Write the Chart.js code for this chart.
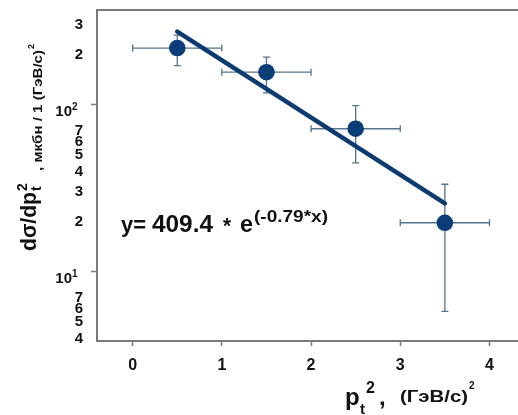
<!DOCTYPE html>
<html><head><meta charset="utf-8">
<script src="https://cdn.jsdelivr.net/npm/chart.js@4/dist/chart.umd.min.js"></script>
<style>html,body{margin:0;padding:0;background:#fff;overflow:hidden}</style>
</head><body>
<canvas id="c" width="518" height="415"></canvas>
<script>
// ---- data ----
const xValues   = [0.5, 1.5, 2.5, 3.5];
const yValues   = [219, 157, 72, 19.7];
const xErrLow   = [0, 1, 2, 3];
const xErrHigh  = [1, 2, 3, 4];
const yErrLow   = [172, 118, 45, 5.8];
const yErrHigh  = [262, 193, 99, 33.5];
const fitX      = [0.5, 3.5];
const fitY      = [275, 25.7];
const xTicks    = [0, 1, 2, 3, 4];
const yTicks    = [4, 5, 6, 7, 10, 20, 30, 40, 50, 60, 70, 100, 200, 300];
const yMajor    = [10, 100];
const fitText   = {y: 'y=', a: '409.4', star: '*', e: 'e', exp: '(-0.79*x)'};
const xTitle    = {p: 'p', sub: 't', sup: '2', comma: ',', unit: '(ГэВ/с)', unitSup: '2'};
const yTitle    = {main: 'dσ/dp', sub: 't', sup: '2', unit: ', мкбн / 1 (ГэВ/с)', unitSup: '2'};

const FONT = '"Liberation Sans", Arial, sans-serif';
const AXIS = '#7a7a7a';

function fitTextDraw(ctx, txt, x, y, size, width) {
  ctx.font = 'bold ' + size + 'px ' + FONT;
  const w = ctx.measureText(txt).width;
  ctx.save();
  ctx.translate(x, y);
  if (width) ctx.scale(width / w, 1);
  ctx.fillText(txt, 0, 0);
  ctx.restore();
}

const extras = {
  id: 'extras',
  beforeDatasetsDraw(chart) {
    const ctx = chart.ctx, xs = chart.scales.x, ys = chart.scales.y;
    ctx.save();
    ctx.strokeStyle = '#56748d';
    ctx.lineWidth = 1.3;
    const cap = 3.5;
    for (let i = 0; i < xValues.length; i++) {
      const px = xs.getPixelForValue(xValues[i]);
      const py = ys.getPixelForValue(yValues[i]);
      const x1 = xs.getPixelForValue(xErrLow[i]), x2 = xs.getPixelForValue(xErrHigh[i]);
      const y1 = ys.getPixelForValue(yErrLow[i]), y2 = ys.getPixelForValue(yErrHigh[i]);
      ctx.beginPath();
      ctx.moveTo(x1, py); ctx.lineTo(x2, py);
      ctx.moveTo(x1, py - cap); ctx.lineTo(x1, py + cap);
      ctx.moveTo(x2, py - cap); ctx.lineTo(x2, py + cap);
      ctx.moveTo(px, y1); ctx.lineTo(px, y2);
      ctx.moveTo(px - cap, y1); ctx.lineTo(px + cap, y1);
      ctx.moveTo(px - cap, y2); ctx.lineTo(px + cap, y2);
      ctx.stroke();
    }
    ctx.restore();
  },
  afterDraw(chart) {
    const ctx = chart.ctx, ca = chart.chartArea, ys = chart.scales.y;
    ctx.save();
    // top border
    ctx.strokeStyle = AXIS; ctx.lineWidth = 2;
    ctx.beginPath(); ctx.moveTo(ca.left - 1, ca.top); ctx.lineTo(ca.right, ca.top); ctx.stroke();

    ctx.fillStyle = '#111';
    ctx.textBaseline = 'alphabetic';
    ctx.textAlign = 'left';
    // 10^n tick labels
    yMajor.forEach(v => {
      const py = ys.getPixelForValue(v);
      const n = String(Math.round(Math.log10(v)));
      ctx.font = 'bold 15px ' + FONT;
      ctx.textAlign = 'right';
      ctx.fillText('10', 72, py + 11.5);
      ctx.textAlign = 'left';
      ctx.font = 'bold 10px ' + FONT;
      ctx.fillText(n, 72, py + 5.5);
    });

    // fit formula
    fitTextDraw(ctx, fitText.y, 121, 232, 22, 25);
    fitTextDraw(ctx, fitText.a, 152, 232, 24, 61);
    fitTextDraw(ctx, fitText.star, 223, 233, 22, 8);
    fitTextDraw(ctx, fitText.e, 240, 232, 24, 13);
    fitTextDraw(ctx, fitText.exp, 254, 222, 17, 74);

    // x title
    fitTextDraw(ctx, xTitle.p, 345, 405, 24);
    fitTextDraw(ctx, xTitle.sub, 360, 414, 15);
    fitTextDraw(ctx, xTitle.sup, 366, 393, 16);
    fitTextDraw(ctx, xTitle.comma, 379, 405, 24);
    fitTextDraw(ctx, xTitle.unit, 400, 402, 17, 68);
    fitTextDraw(ctx, xTitle.unitSup, 469, 389, 10);

    // y title (rotated)
    ctx.save();
    ctx.translate(36, 251);
    ctx.rotate(-Math.PI / 2);
    fitTextDraw(ctx, yTitle.main, 0, 0, 22, 59);
    fitTextDraw(ctx, yTitle.sub, 60, 5, 14);
    fitTextDraw(ctx, yTitle.sup, 60, -9, 14);
    fitTextDraw(ctx, yTitle.unit, 80, 6, 13, 121);
    fitTextDraw(ctx, yTitle.unitSup, 202, -2, 9);
    ctx.restore();

    ctx.restore();
  }
};

new Chart(document.getElementById('c'), {
  type: 'scatter',
  data: {
    datasets: [
      {
        data: fitX.map((x, i) => ({x, y: fitY[i]})),
        showLine: true, borderColor: '#0d3b70', borderWidth: 4.5,
        pointRadius: 0, borderCapStyle: 'round', fill: false
      },
      {
        data: xValues.map((x, i) => ({x, y: yValues[i]})),
        pointRadius: 8.3, pointBackgroundColor: '#0b3d78', pointBorderWidth: 0,
        showLine: false
      }
    ]
  },
  options: {
    responsive: false, devicePixelRatio: 1, animation: false,
    layout: {autoPadding: false, padding: {top: 10, right: 0, left: 0, bottom: 0}},
    plugins: {legend: {display: false}, tooltip: {enabled: false}},
    scales: {
      x: {
        type: 'linear', min: -0.4, max: 4.32,
        afterBuildTicks: s => { s.ticks = xTicks.map(v => ({value: v})); },
        afterFit: s => { s.height = 74; s.paddingLeft = 0; s.paddingRight = 0; },
        ticks: {font: {family: FONT, weight: 'bold', size: 16}, color: '#111', padding: 10, maxRotation: 0},
        grid: {drawOnChartArea: false, tickLength: 5, color: AXIS, tickWidth: 1.5},
        border: {color: AXIS, width: 2}
      },
      y: {
        type: 'logarithmic', min: 3.86, max: 370,
        afterBuildTicks: s => { s.ticks = yTicks.map(v => ({value: v, major: yMajor.includes(v)})); },
        afterFit: s => { s.width = 97; s.paddingTop = 0; s.paddingBottom = 0; },
        ticks: {
          autoSkip: false, padding: 8, color: '#111',
          font: {family: FONT, weight: 'bold', size: 15},
          callback: v => yMajor.includes(v) ? '' : String(Math.round(v / Math.pow(10, Math.floor(Math.log10(v) + 1e-9))))
        },
        grid: {
          drawOnChartArea: false, tickLength: 6, tickWidth: 1.5,
          color: c => (c.tick && yMajor.includes(c.tick.value)) ? AXIS : 'rgba(0,0,0,0)'
        },
        border: {color: AXIS, width: 2}
      }
    }
  },
  plugins: [extras]
});
</script>
</body></html>
